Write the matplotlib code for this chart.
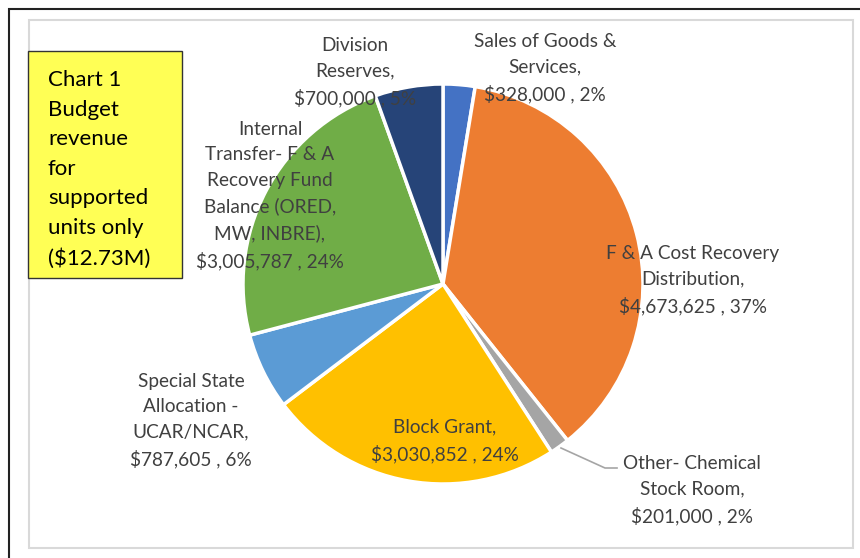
import matplotlib.pyplot as plt
from matplotlib.patches import Rectangle
from matplotlib.lines import Line2D

# ---- data ----
categories = ["Sales of Goods &\nServices,", "F & A Cost Recovery\nDistribution,",
              "Other- Chemical\nStock Room,", "Block Grant,",
              "Special State\nAllocation -\nUCAR/NCAR,",
              "Internal\nTransfer- F & A\nRecovery Fund\nBalance (ORED,\nMW, INBRE),",
              "Division\nReserves,"]
values = [328000, 4673625, 201000, 3030852, 787605, 3005787, 700000]
percents = [2, 37, 2, 24, 6, 24, 5]   # as printed on the chart
colors = ["#4472C4", "#ED7D31", "#A5A5A5", "#FFC000", "#5B9BD5", "#70AD47", "#264478"]
box_text = ["Chart 1", "Budget", "revenue", "for", "supported", "units only", "($12.73M)"]

# label centres in pixels (x, y of first line from top)
label_pos = [(545, 40), (693, 252), (692, 462), (445, 425), (191, 380), (270, 128), (355, 44)]

W, H = 860, 558
fig = plt.figure(figsize=(W / 100, H / 100), dpi=100)

def fx(px):
    return px / W

def fy(py):
    return 1 - py / H

# frames
fig.patches.append(Rectangle((fx(9), fy(600)), fx(900), fy(9) - fy(600), transform=fig.transFigure,
                             fill=False, edgecolor="#222222", linewidth=1.5))
fig.patches.append(Rectangle((fx(29), fy(548)), fx(853) - fx(29), fy(20) - fy(548), transform=fig.transFigure,
                             fill=False, edgecolor="#d9d9d9", linewidth=1.5))

# pie
cx, cy, r = 443, 284, 200
ax = fig.add_axes([fx(cx - r), fy(cy + r), fx(2 * r), fy(cy - r) - fy(cy + r)])
ax.pie(values, colors=colors, startangle=90, counterclock=False, radius=1,
       wedgeprops=dict(edgecolor="white", linewidth=2.5))
ax.set_xlim(-1, 1)
ax.set_ylim(-1, 1)
ax.axis("off")

for cat, v, p, (px, py) in zip(categories, values, percents, label_pos):
    txt = cat + "\n${:,} , {}%".format(v, p)
    fig.text(fx(px), fy(py - 7), txt, ha="center", va="top", fontsize=13.7, family="Lato",
             color="#404040", linespacing=1.6)

# leader line for Other
fig.lines.append(Line2D([fx(561), fx(605), fx(617)], [fy(448), fy(468), fy(468)],
                        transform=fig.transFigure, color="#a5a5a5", linewidth=1.2))

# yellow title box
fig.patches.append(Rectangle((fx(28), fy(278)), fx(182) - fx(28), fy(51) - fy(278), transform=fig.transFigure,
                             facecolor="#FFFF55", edgecolor="#333333", linewidth=1.0))
fig.text(fx(48), fy(70), "\n".join(box_text), ha="left", va="top", fontsize=16, family="Lato",
         color="black", linespacing=1.6)

fig.savefig("out.png", dpi=100)
